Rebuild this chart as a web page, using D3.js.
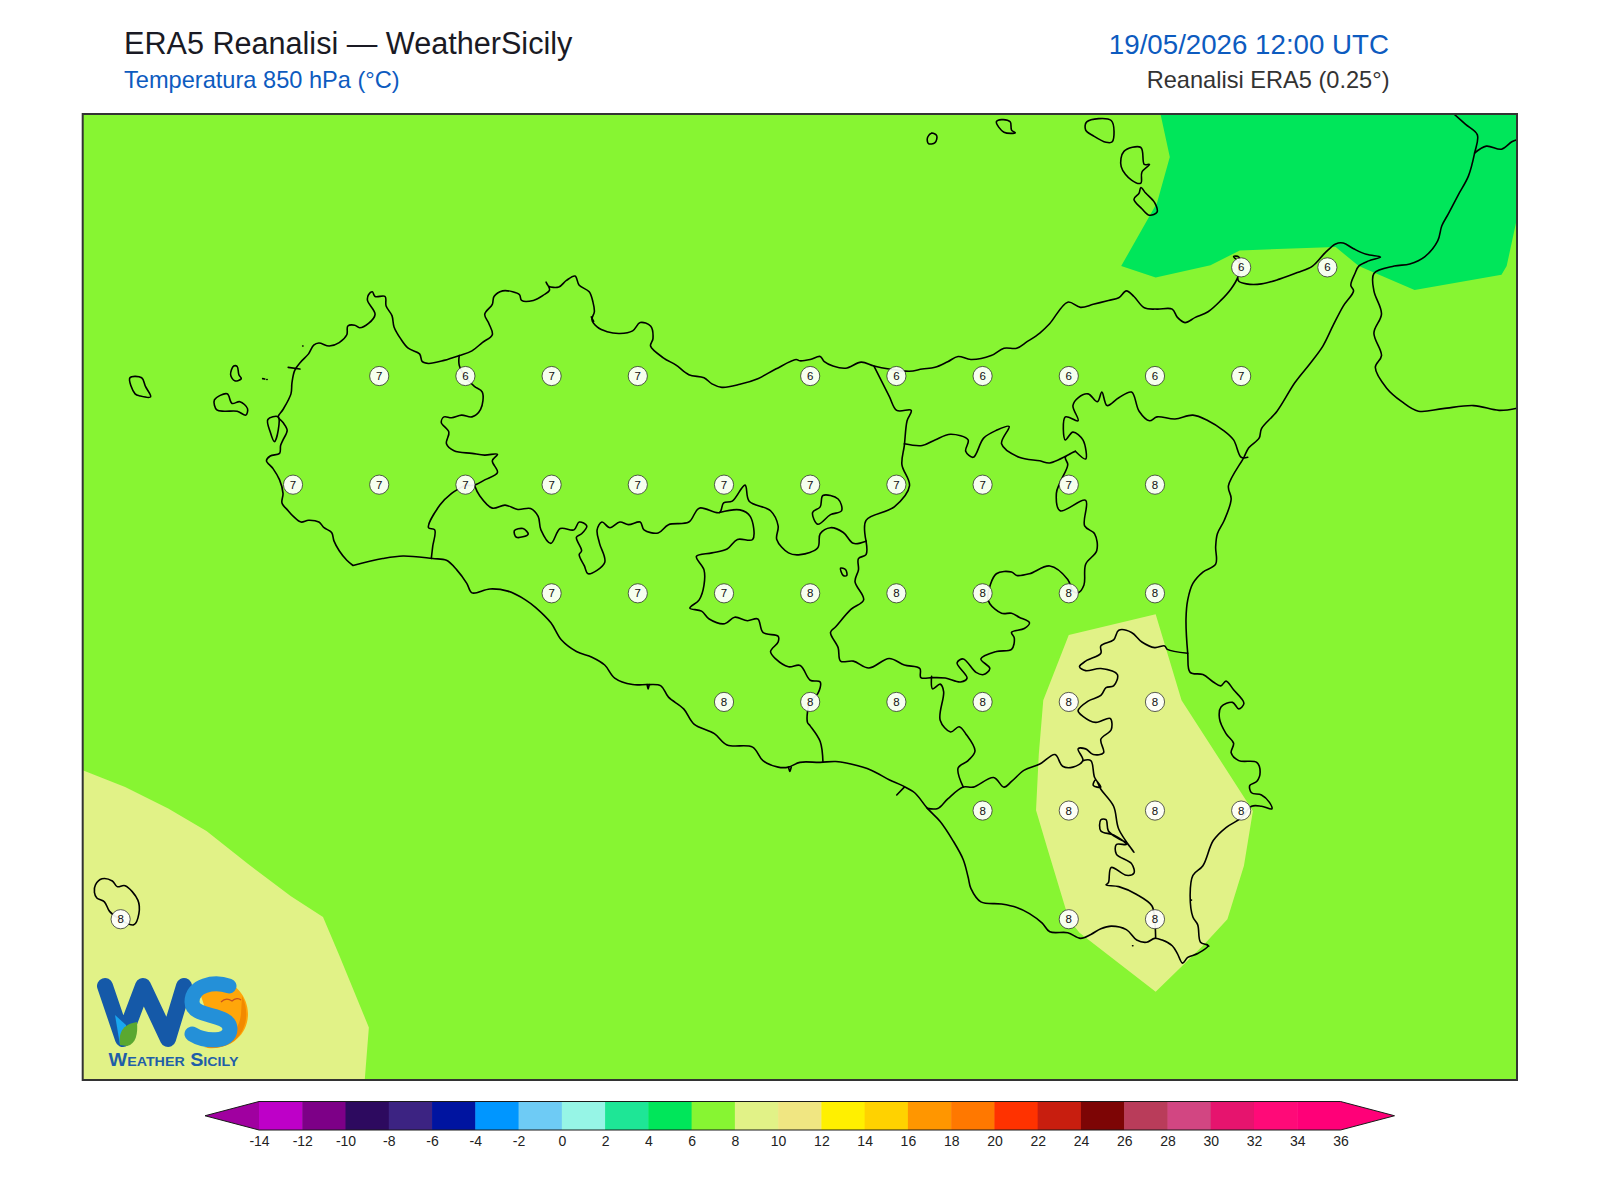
<!DOCTYPE html>
<html lang="en">
	<head>
		<meta charset="utf-8">
		<title>ERA5 Reanalisi - WeatherSicily</title>
		<script type="text/javascript" src="https://d3js.org/d3.v7.min.js"></script>
		<style type="text/css">
			body { margin: 0; background: #fff; }
			text { font-family: "Liberation Sans", Arial, sans-serif; }
			.outline { fill: none; stroke: #000; stroke-width: 1.6; stroke-linejoin: round; stroke-linecap: round; }
			.cbar text { font-size: 14px; fill: #222; }
		</style>
	</head>
	<body>
		<script type="text/javascript">

			// colour bands of the scale, -14 to 36 every 2 degrees
			var levels = [-14,-12,-10,-8,-6,-4,-2,0,2,4,6,8,10,12,14,16,18,20,22,24,26,28,30,32,34,36];
			var bandColors = ["#be00c8","#7d0087","#2d0a5f","#3c2382","#0014a0","#0096ff","#6ecbf5","#96f5e6","#1ee696","#00e65a","#87f532","#e1f287","#f0e682","#fff000","#ffd200","#ff9600","#ff7800","#ff3200","#c81e0f","#7d0505","#b93c5a","#d24682","#e6146e","#ff0a78","#ff0078"];
			var underColor = "#a000a0", overColor = "#ff0078";

			// grid values printed on the map
			var labelLat = [38.25,38.25,
				38,38,38,38,38,38,38,38,38,38,
				37.75,37.75,37.75,37.75,37.75,37.75,37.75,37.75,37.75,37.75,37.75,
				37.5,37.5,37.5,37.5,37.5,37.5,37.5,37.5,
				37.25,37.25,37.25,37.25,37.25,37.25,
				37,37,37,37,
				36.75,36.75,36.75];
			var labelLon = [15.25,15.5,
				12.75,13,13.25,13.5,14,14.25,14.5,14.75,15,15.25,
				12.5,12.75,13,13.25,13.5,13.75,14,14.25,14.5,14.75,15,
				13.25,13.5,13.75,14,14.25,14.5,14.75,15,
				13.75,14,14.25,14.5,14.75,15,
				14.5,14.75,15,15.25,
				12,14.75,15];
			var labelVal = [6,6,
				7,6,7,7,6,6,6,6,6,7,
				7,7,7,7,7,7,7,7,7,7,8,
				7,7,7,8,8,8,8,8,
				8,8,8,8,8,8,
				8,8,8,8,
				8,8,8];

			// filled temperature areas, lon/lat
			var band4to6 = [[15.016,38.603],[15.043,38.504],[15.006,38.399],[14.902,38.253],[15.002,38.227],[15.161,38.255],[15.246,38.289],[15.524,38.297],[15.591,38.253],[15.753,38.198],[16.005,38.233],[16.020,38.253],[16.05,38.363],[16.05,38.603]];
			var band8to10East = [[15.002,37.452],[14.750,37.404],[14.676,37.254],[14.663,37.129],[14.655,37.001],[14.688,36.913],[14.750,36.750],[14.781,36.719],[15.002,36.583],[15.139,36.689],[15.210,36.750],[15.258,36.873],[15.284,36.999],[15.250,37.041],[15.077,37.254]];
			var band8to10West = [[11.89,37.093],[12.013,37.054],[12.138,37.005],[12.249,36.953],[12.368,36.878],[12.494,36.803],[12.587,36.755],[12.634,36.667],[12.720,36.501],[12.708,36.38],[11.89,36.38]];

			// coast of Sicily, lon/lat
			var sicilyCoast = [[12.674,37.564],[12.656,37.576],[12.634,37.598],[12.619,37.620],[12.612,37.640],[12.590,37.651],[12.575,37.664],[12.545,37.668],[12.523,37.664],[12.501,37.677],[12.486,37.690],[12.468,37.708],[12.471,37.730],[12.461,37.761],[12.442,37.787],[12.423,37.805],[12.434,37.816],[12.461,37.822],[12.464,37.840],[12.471,37.853],[12.483,37.875],[12.471,37.893],[12.457,37.906],[12.471,37.923],[12.494,37.959],[12.497,37.985],[12.505,38.013],[12.523,38.033],[12.545,38.051],[12.560,38.071],[12.575,38.076],[12.605,38.069],[12.634,38.077],[12.656,38.095],[12.659,38.115],[12.679,38.117],[12.693,38.111],[12.719,38.121],[12.738,38.142],[12.716,38.174],[12.719,38.187],[12.730,38.194],[12.738,38.183],[12.767,38.183],[12.770,38.161],[12.787,38.139],[12.793,38.113],[12.812,38.086],[12.834,38.064],[12.867,38.051],[12.875,38.033],[12.893,38.029],[12.938,38.036],[12.982,38.047],[13.019,38.058],[13.049,38.077],[13.078,38.095],[13.068,38.121],[13.056,38.142],[13.078,38.165],[13.083,38.183],[13.108,38.196],[13.137,38.194],[13.157,38.187],[13.163,38.174],[13.197,38.174],[13.226,38.186],[13.244,38.198],[13.234,38.216],[13.241,38.207],[13.271,38.205],[13.293,38.220],[13.318,38.230],[13.330,38.209],[13.359,38.194],[13.370,38.170],[13.374,38.148],[13.367,38.130],[13.382,38.113],[13.411,38.102],[13.448,38.098],[13.485,38.104],[13.507,38.123],[13.537,38.115],[13.544,38.086],[13.537,38.069],[13.574,38.042],[13.611,38.025],[13.648,38.003],[13.692,37.996],[13.715,37.982],[13.744,37.974],[13.796,37.981],[13.848,37.994],[13.900,38.016],[13.959,38.038],
				[13.970,38.035],[14.000,38.038],[14.029,38.045],[14.041,38.033],[14.066,38.023],[14.103,38.018],[14.148,38.032],[14.185,38.023],[14.229,38.016],[14.288,38.011],[14.325,38.016],[14.362,38.020],[14.399,38.033],[14.429,38.045],[14.466,38.038],[14.525,38.047],[14.562,38.064],[14.599,38.064],[14.629,38.079],[14.666,38.099],[14.695,38.121],[14.747,38.170],[14.784,38.158],[14.821,38.165],[14.865,38.174],[14.895,38.180],[14.917,38.196],[14.939,38.183],[14.969,38.157],[15.006,38.154],[15.050,38.154],[15.065,38.135],[15.087,38.123],[15.117,38.135],[15.154,38.148],[15.191,38.174],[15.221,38.201],[15.240,38.227],[15.246,38.258],[15.228,38.275],[15.243,38.274],[15.246,38.258],[15.240,38.227],[15.243,38.218],[15.265,38.212],[15.309,38.212],[15.361,38.223],[15.413,38.238],[15.457,38.253],[15.494,38.284],[15.524,38.304],[15.546,38.306],[15.576,38.293],[15.613,38.280],[15.654,38.274],[15.620,38.265],[15.591,38.253],[15.580,38.236],[15.568,38.209],[15.576,38.196],[15.546,38.161],[15.517,38.117],[15.487,38.069],[15.450,38.029],[15.406,37.985],[15.354,37.919],[15.309,37.879],[15.302,37.857],[15.272,37.835],[15.258,37.813],[15.213,37.747],[15.221,37.717],[15.201,37.668],[15.181,37.637],[15.176,37.607],[15.176,37.567],[15.139,37.549],[15.110,37.523],[15.095,37.485],
				[15.090,37.441],[15.095,37.362],[15.102,37.318],[15.139,37.313],[15.169,37.296],[15.191,37.287],[15.206,37.298],[15.228,37.278],[15.258,37.247],[15.243,37.234],[15.225,37.249],[15.192,37.239],[15.187,37.212],[15.206,37.177],[15.228,37.155],[15.221,37.133],[15.243,37.115],[15.295,37.111],[15.305,37.089],[15.295,37.067],[15.275,37.058],[15.280,37.041],[15.309,37.036],[15.332,37.019],[15.339,37.004],[15.309,37.010],[15.280,37.010],[15.250,36.983],[15.206,36.961],[15.169,36.931],[15.139,36.873],[15.110,36.851],[15.102,36.807],[15.110,36.755],[15.124,36.737],[15.132,36.697],[15.154,36.689],[15.124,36.671],[15.095,36.662],[15.080,36.649],[15.065,36.671],[15.050,36.689],[15.021,36.702],[14.999,36.706],[14.976,36.697],[14.947,36.702],[14.917,36.726],[14.873,36.734],[14.843,36.728],[14.814,36.715],[14.784,36.706],[14.747,36.719],[14.695,36.721],[14.673,36.741],[14.636,36.763],[14.599,36.777],[14.555,36.785],[14.495,36.790],[14.466,36.821],[14.458,36.847],[14.444,36.887],[14.414,36.931],[14.377,36.975],[14.340,37.005],[14.303,37.041],[14.266,37.058],[14.229,37.071],[14.177,37.093],[14.118,37.107],[14.074,37.113],[14.029,37.111],[13.970,37.111],
				[13.937,37.100],[13.907,37.100],[13.863,37.115],[13.833,37.146],[13.759,37.151],[13.722,37.177],[13.663,37.199],[13.633,37.234],[13.589,37.261],[13.567,37.287],[13.530,37.290],[13.485,37.290],[13.433,37.305],[13.404,37.335],[13.367,37.353],[13.322,37.366],[13.278,37.393],[13.248,37.432],[13.204,37.467],[13.174,37.485],[13.123,37.505],[13.071,37.510],[13.019,37.501],[13.004,37.523],[12.975,37.554],[12.945,37.576],[12.905,37.580],[12.819,37.586],[12.760,37.580],[12.674,37.564]];

			// province borders, lon/lat
			var trapaniPalermo = [[12.982,38.047],[12.982,38.025],[13.000,37.998],[13.026,37.976],[13.049,37.963],[13.044,37.923],[13.019,37.906],[12.989,37.910],[12.960,37.904],[12.938,37.906],[12.930,37.893],[12.952,37.871],[12.945,37.844],[12.967,37.828],[13.019,37.822],[13.056,37.818],[13.093,37.820],[13.078,37.805],[13.093,37.778],[13.056,37.761],[13.026,37.749],[13.000,37.749]];
			var trapaniAgrigento = [[13.000,37.749],[12.960,37.730],[12.926,37.703],[12.893,37.651],[12.911,37.646],[12.905,37.607],[12.901,37.580]];
			var palermoSouth = [[13.026,37.749],[13.041,37.725],[13.078,37.696],[13.115,37.703],[13.152,37.693],[13.189,37.695],[13.211,37.677],[13.219,37.646],[13.248,37.615],[13.275,37.649],[13.315,37.646],[13.330,37.664],[13.352,37.655],[13.337,37.637],[13.322,37.629],[13.337,37.598],[13.330,37.589],[13.345,37.563],[13.356,37.545],[13.404,37.571],[13.389,37.615],[13.382,37.646],[13.396,37.664],[13.419,37.651],[13.448,37.664],[13.473,37.658],[13.507,37.664],[13.518,37.646],[13.559,37.639],[13.589,37.658],[13.648,37.664],[13.678,37.696],[13.737,37.686],[13.749,37.708],[13.774,37.712],[13.811,37.749],[13.823,37.712],[13.885,37.690],[13.907,37.655],[13.903,37.624],[13.937,37.593],[13.971,37.589],[14.022,37.605],[14.029,37.637],[14.059,37.651],[14.096,37.640],[14.125,37.615],[14.162,37.620]];
			var palermoMessina = [[14.162,37.620],[14.162,37.668],[14.244,37.699],[14.288,37.747],[14.266,37.796],[14.273,37.840],[14.281,37.897],[14.293,37.921],[14.251,37.921],[14.229,37.954],[14.185,38.023]];
			var agrigentoCaltanissetta = [[13.737,37.686],[13.796,37.692],[13.826,37.677],[13.833,37.624],[13.789,37.624],[13.759,37.602],[13.715,37.593],[13.670,37.585],[13.692,37.554],[13.692,37.519],[13.678,37.485],[13.651,37.466],[13.685,37.459],[13.707,37.441],[13.752,37.430],[13.781,37.445],[13.818,37.437],[13.848,37.441],[13.863,37.410],[13.907,37.401],[13.907,37.388],[13.885,37.366],[13.900,37.349],[13.937,37.331],[13.971,37.334],[14.000,37.300],[14.029,37.296],[14.022,37.269],[14.000,37.252],[13.992,37.203],[14.000,37.195],[14.029,37.159],[14.037,37.111]];
			var ennaBorder = [[14.162,37.620],[14.162,37.589],[14.140,37.580],[14.140,37.554],[14.130,37.527],[14.155,37.485],[14.118,37.463],[14.074,37.423],[14.059,37.410],[14.081,37.375],[14.088,37.344],[14.125,37.344],[14.170,37.328],[14.229,37.350],[14.273,37.335],[14.318,37.327],[14.321,37.306],[14.355,37.306],[14.392,37.305],[14.436,37.296],[14.455,37.305],[14.426,37.340],[14.444,37.349],[14.481,37.318],[14.503,37.313],[14.521,37.327],[14.495,37.349],[14.540,37.366],[14.584,37.371],[14.592,37.397],[14.584,37.410],[14.621,37.419],[14.636,37.432],[14.606,37.445],[14.584,37.454],[14.555,37.454],[14.521,37.476],[14.515,37.492],[14.540,37.545],[14.584,37.549],[14.599,37.541],[14.636,37.545],[14.695,37.563],[14.747,37.532],[14.762,37.505],[14.777,37.501],[14.794,37.519],[14.799,37.567],[14.831,37.598],[14.825,37.637],[14.796,37.655],[14.799,37.714],[14.725,37.690],[14.714,37.730],[14.725,37.756],[14.747,37.796],[14.740,37.813],[14.769,37.827],[14.695,37.800],[14.666,37.805],[14.606,37.813],[14.555,37.844],[14.577,37.884],[14.540,37.875],[14.503,37.857],[14.473,37.813],[14.451,37.827],[14.458,37.853],[14.407,37.866],[14.362,37.853],[14.325,37.840],[14.273,37.844]];
			var messinaCatania = [[14.769,37.827],[14.799,37.809],[14.791,37.853],[14.762,37.871],[14.740,37.853],[14.740,37.906],[14.777,37.897],[14.762,37.932],[14.777,37.950],[14.806,37.959],[14.833,37.941],[14.846,37.963],[14.861,37.932],[14.895,37.950],[14.932,37.963],[14.954,37.919],[14.984,37.897],[15.006,37.906],[15.058,37.901],[15.110,37.910],[15.154,37.897],[15.198,37.875],[15.228,37.853],[15.250,37.813],[15.269,37.813]];
			var cataniaSouth = [[15.095,37.362],[15.036,37.371],[15.028,37.379],[14.999,37.375],[14.962,37.388],[14.932,37.410],[14.895,37.415],[14.880,37.393],[14.843,37.379],[14.843,37.362],[14.799,37.344],[14.781,37.331],[14.799,37.322],[14.843,37.327],[14.891,37.313],[14.880,37.287],[14.858,37.283],[14.843,37.265],[14.806,37.252],[14.777,37.230],[14.791,37.217],[14.828,37.203],[14.870,37.212],[14.873,37.186],[14.843,37.164],[14.851,37.133],[14.821,37.129],[14.799,37.142],[14.777,37.142],[14.791,37.115],[14.762,37.100],[14.732,37.102],[14.710,37.129],[14.666,37.107],[14.621,37.093],[14.584,37.067],[14.562,37.054],[14.532,37.076],[14.473,37.054],[14.444,37.054],[14.399,37.027],[14.370,37.005],[14.340,37.005]];
			var caltanissettaEast = [[14.444,37.054],[14.429,37.098],[14.458,37.115],[14.478,37.137],[14.451,37.177],[14.432,37.193],[14.407,37.181],[14.377,37.208],[14.387,37.274],[14.377,37.291],[14.355,37.280],[14.352,37.309]];
			var ragusaSiracusa = [[14.791,37.115],[14.814,37.115],[14.825,37.076],[14.843,37.054],[14.821,37.058],[14.828,37.071],[14.843,37.049],[14.880,37.010],[14.895,36.957],[14.939,36.904],[14.917,36.926],[14.895,36.935],[14.865,36.953],[14.858,36.979],[14.843,36.979],[14.843,36.953],[14.880,36.944],[14.917,36.922],[14.888,36.922],[14.888,36.900],[14.932,36.878],[14.939,36.856],[14.917,36.851],[14.873,36.869],[14.865,36.834],[14.858,36.829],[14.895,36.825],[14.947,36.807],[14.991,36.781],[14.999,36.750],[15.002,36.706]];
			var gelaTick = [[14.251,37.036],[14.273,37.054]];
			var calabriaCoast = [[15.867,38.603],[15.901,38.579],[15.935,38.555],[15.927,38.513],[15.909,38.460],[15.879,38.416],[15.850,38.372],[15.832,38.346],[15.820,38.311],[15.783,38.275],[15.739,38.258],[15.694,38.253],[15.635,38.236],[15.635,38.196],[15.657,38.143],[15.635,38.099],[15.657,38.047],[15.639,38.020],[15.672,37.972],[15.716,37.941],[15.764,37.919],[15.835,37.925],[15.924,37.932],[15.998,37.921],[16.05,37.926]];
			var calabriaBorder = [[15.927,38.513],[15.961,38.529],[16.005,38.522],[16.035,38.539],[16.05,38.544]];
			// rocks and small spits
			var smallRocks = [[[12.412,37.994],[12.418,37.993]],[[12.424,37.992],[12.425,37.992]],[[12.486,38.020],[12.520,38.016]],[[12.528,38.069],[12.529,38.069]],[[13.365,38.136],[13.372,38.126]],[[13.937,37.100],[13.941,37.090],[13.945,37.100]],[[13.527,37.290],[13.530,37.280],[13.533,37.290]],[[14.935,36.689],[14.936,36.689]],[[15.105,36.794],[15.106,36.794]],[[15.150,36.692],[15.156,36.688]]];

			// islands and lakes, lon/lat
			var marettimo = [[12.027,37.996],[12.061,37.996],[12.072,37.976],[12.087,37.952],[12.057,37.954],[12.042,37.959]];
			var levanzo = [[12.328,38.023],[12.338,38.022],[12.343,38.003],[12.350,37.994],[12.331,37.989],[12.319,38.003]];
			var favignana = [[12.272,37.945],[12.309,37.959],[12.323,37.937],[12.346,37.941],[12.368,37.925],[12.363,37.910],[12.338,37.919],[12.301,37.919],[12.279,37.922]];
			var stagnone = [[12.427,37.900],[12.434,37.871],[12.446,37.849],[12.457,37.875],[12.457,37.906]];
			var enclaveAgrigento = [[13.142,37.644],[13.167,37.649],[13.182,37.636],[13.148,37.629]];
			var enclaveEnna = [[14.037,37.725],[14.081,37.717],[14.091,37.690],[14.059,37.681],[14.022,37.659],[14.007,37.686],[14.029,37.699]];
			var lakeEnna = [[14.088,37.558],[14.103,37.554],[14.106,37.541],[14.096,37.541]];
			var alicudi = [[14.340,38.548],[14.352,38.559],[14.367,38.553],[14.362,38.537],[14.343,38.535]];
			var filicudi = [[14.540,38.585],[14.555,38.590],[14.580,38.585],[14.584,38.566],[14.595,38.560],[14.562,38.561]];
			var salina = [[14.802,38.585],[14.873,38.588],[14.876,38.539],[14.858,38.538],[14.821,38.553],[14.799,38.566]];
			var lipari = [[14.910,38.517],[14.959,38.526],[14.969,38.487],[14.984,38.487],[14.962,38.469],[14.959,38.444],[14.932,38.451],[14.902,38.482]];
			var vulcano = [[14.959,38.434],[14.973,38.421],[14.999,38.399],[15.006,38.377],[14.984,38.370],[14.962,38.385],[14.939,38.407],[14.954,38.421]];
			var pantelleria = [[11.927,36.829],[11.946,36.843],[11.976,36.838],[11.990,36.825],[12.013,36.827],[12.050,36.794],[12.053,36.763],[12.038,36.737],[11.998,36.750],[11.968,36.768],[11.953,36.790],[11.931,36.799],[11.924,36.812]];

			var openLines = [sicilyCoast, trapaniPalermo, trapaniAgrigento, palermoSouth, palermoMessina, agrigentoCaltanissetta, ennaBorder, messinaCatania, cataniaSouth, caltanissettaEast, ragusaSiracusa, gelaTick, calabriaCoast, calabriaBorder].concat(smallRocks);
			var rings = [marettimo, levanzo, favignana, stagnone, enclaveAgrigento, enclaveEnna, lakeEnna, alicudi, filicudi, salina, lipari, vulcano, pantelleria];

			var w = 1600, h = 1200;
			var plot = {left: 82.7, right: 1517, top: 114, bottom: 1080};

			var svg = d3.select("body").append("svg")
				.attr("width", w)
				.attr("height", h);

			// header
			svg.append("text").text("ERA5 Reanalisi \u2014 WeatherSicily")
				.attr("x", 124).attr("y", 53.5)
				.style("font-size", "30.6px").style("fill", "#1a1a24");
			svg.append("text").text("Temperatura 850 hPa (\u00b0C)")
				.attr("x", 124).attr("y", 87.5)
				.style("font-size", "23.6px").style("fill", "#0d5bbf");
			svg.append("text").text("19/05/2026 12:00 UTC")
				.attr("x", 1389).attr("y", 54).attr("text-anchor", "end")
				.style("font-size", "27.7px").style("fill", "#0d5bbf");
			svg.append("text").text("Reanalisi ERA5 (0.25\u00b0)")
				.attr("x", 1389.5).attr("y", 87.5).attr("text-anchor", "end")
				.style("font-size", "23.6px").style("fill", "#333");

			var x = d3.scaleLinear().domain([11.89, 16.05]).range([plot.left, plot.right]);
			var y = d3.scaleLinear().domain([38.603, 36.38]).range([plot.top, plot.bottom]);

			var line = d3.line()
				.x(function(d) { return x(d[0]); })
				.y(function(d) { return y(d[1]); });

			var curved = d3.line()
				.curve(d3.curveCatmullRom.alpha(0.5))
				.x(function(d) { return x(d[0]); })
				.y(function(d) { return y(d[1]); });

			var curvedRing = d3.line()
				.curve(d3.curveCatmullRomClosed.alpha(0.5))
				.x(function(d) { return x(d[0]); })
				.y(function(d) { return y(d[1]); });

			svg.append("clipPath").attr("id", "plot-clip")
				.append("rect")
				.attr("x", plot.left).attr("y", plot.top)
				.attr("width", plot.right - plot.left).attr("height", plot.bottom - plot.top);

			var map = svg.append("g").attr("clip-path", "url(#plot-clip)");

			map.append("rect")
				.attr("x", plot.left).attr("y", plot.top)
				.attr("width", plot.right - plot.left).attr("height", plot.bottom - plot.top)
				.attr("fill", bandColors[10]);

			map.append("path").attr("d", line(band4to6) + "Z").attr("fill", bandColors[9]);
			map.append("path").attr("d", line(band8to10East) + "Z").attr("fill", bandColors[11]);
			map.append("path").attr("d", line(band8to10West) + "Z").attr("fill", bandColors[11]);

			map.selectAll(".open").data(openLines).enter().append("path")
				.attr("class", "outline open")
				.attr("d", function(d) { return curved(d); });

			map.selectAll(".ring").data(rings).enter().append("path")
				.attr("class", "outline ring")
				.attr("d", function(d) { return curvedRing(d); });

			// value bubbles
			var bubbles = map.selectAll(".bubble").data(labelVal).enter().append("g")
				.attr("class", "bubble")
				.attr("transform", function(d, i) { return "translate(" + x(labelLon[i]) + "," + y(labelLat[i]) + ")"; });

			bubbles.append("circle")
				.attr("r", 9.6)
				.attr("fill", "#fff").attr("fill-opacity", 0.92)
				.attr("stroke", "#333").attr("stroke-width", 0.8);

			bubbles.append("text")
				.attr("text-anchor", "middle")
				.attr("y", 4)
				.style("font-size", "11.5px").style("fill", "#111")
				.text(function(d) { return d; });

			// logo
			var logo = svg.append("g");
			logo.append("path")
				.attr("d", "M214,980 C233,978 248,996 248,1014 C248,1035 230,1050 208,1048 L198,1040 L226,1036 L232,1018 L205,1008 L200,993 Z")
				.attr("fill", "#ffa60a");
			logo.append("path")
				.attr("d", "M242,996 C250,1012 247,1033 231,1043 C222,1048 212,1049 204,1047 C222,1047 239,1034 241,1014 Z")
				.attr("fill", "#f28a00");
			logo.append("path")
				.attr("d", "M105,986 L123,1039 L143,986 L168,1039 L184,986")
				.attr("fill", "none").attr("stroke", "#1559a8").attr("stroke-width", 16)
				.attr("stroke-linejoin", "round").attr("stroke-linecap", "round");
			logo.append("path")
				.attr("d", "M229,986 C214,981 192,985 192,1002 C192,1019 230,1012 230,1029 C230,1043 205,1042 192,1034")
				.attr("fill", "none").attr("stroke", "#2490d8").attr("stroke-width", 15)
				.attr("stroke-linecap", "round");
			logo.append("path")
				.attr("d", "M115,1015 L120,1045 L129,1045 L126,1025 Z")
				.attr("fill", "#19a7f0");
			logo.append("path")
				.attr("d", "M120,1045 C118,1030 125,1024 137,1022 C138,1034 136,1044 127,1046 Z")
				.attr("fill", "#5aa830");
			logo.append("path")
				.attr("d", "M221,1002 C225,998 229,999 232,1001 C235,998 239,998 241,1000")
				.attr("fill", "none").attr("stroke", "#c8501e").attr("stroke-width", 1.2);
			logo.append("text")
				.text("Weather Sicily")
				.attr("x", 108.5).attr("y", 1065.5)
				.attr("textLength", 130).attr("lengthAdjust", "spacingAndGlyphs")
				.style("font-size", "18px").style("font-weight", "bold")
				.style("font-variant", "small-caps").style("fill", "#1f5ea8");

			// frame
			svg.append("rect")
				.attr("x", plot.left).attr("y", plot.top)
				.attr("width", plot.right - plot.left).attr("height", plot.bottom - plot.top)
				.attr("fill", "none").attr("stroke", "#333").attr("stroke-width", 2);

			// colour bar
			var cx = d3.scaleLinear().domain([-14, 36]).range([259, 1340.5]);
			var barTop = 1101.5, barBottom = 1130, barMid = (barTop + barBottom) / 2, tip = 54;

			var cbar = svg.append("g").attr("class", "cbar");

			cbar.selectAll(".band").data(bandColors).enter().append("rect")
				.attr("class", "band")
				.attr("x", function(d, i) { return cx(levels[i]); })
				.attr("y", barTop)
				.attr("width", function(d, i) { return cx(levels[i + 1]) - cx(levels[i]) + 0.5; })
				.attr("height", barBottom - barTop)
				.attr("fill", function(d) { return d; });

			cbar.append("path")
				.attr("d", "M" + cx(-14) + "," + barTop + "L" + (cx(-14) - tip) + "," + barMid + "L" + cx(-14) + "," + barBottom + "Z")
				.attr("fill", underColor);
			cbar.append("path")
				.attr("d", "M" + cx(36) + "," + barTop + "L" + (cx(36) + tip) + "," + barMid + "L" + cx(36) + "," + barBottom + "Z")
				.attr("fill", overColor);

			cbar.append("path")
				.attr("d", "M" + cx(-14) + "," + barTop + "L" + (cx(-14) - tip) + "," + barMid + "L" + cx(-14) + "," + barBottom
					+ "L" + cx(36) + "," + barBottom + "L" + (cx(36) + tip) + "," + barMid + "L" + cx(36) + "," + barTop + "Z")
				.attr("fill", "none").attr("stroke", "#1a1a1a").attr("stroke-width", 1);

			cbar.append("g")
				.attr("transform", "translate(0," + barBottom + ")")
				.call(d3.axisBottom(cx).tickValues(levels).tickFormat(function(d) { return String(d); }).tickSize(0).tickPadding(6))
				.call(function(g) { g.select(".domain").remove(); });

			cbar.selectAll("text").style("font-family", "'Liberation Sans', Arial, sans-serif").style("font-size", "14px");

		</script>
	</body>
</html>
